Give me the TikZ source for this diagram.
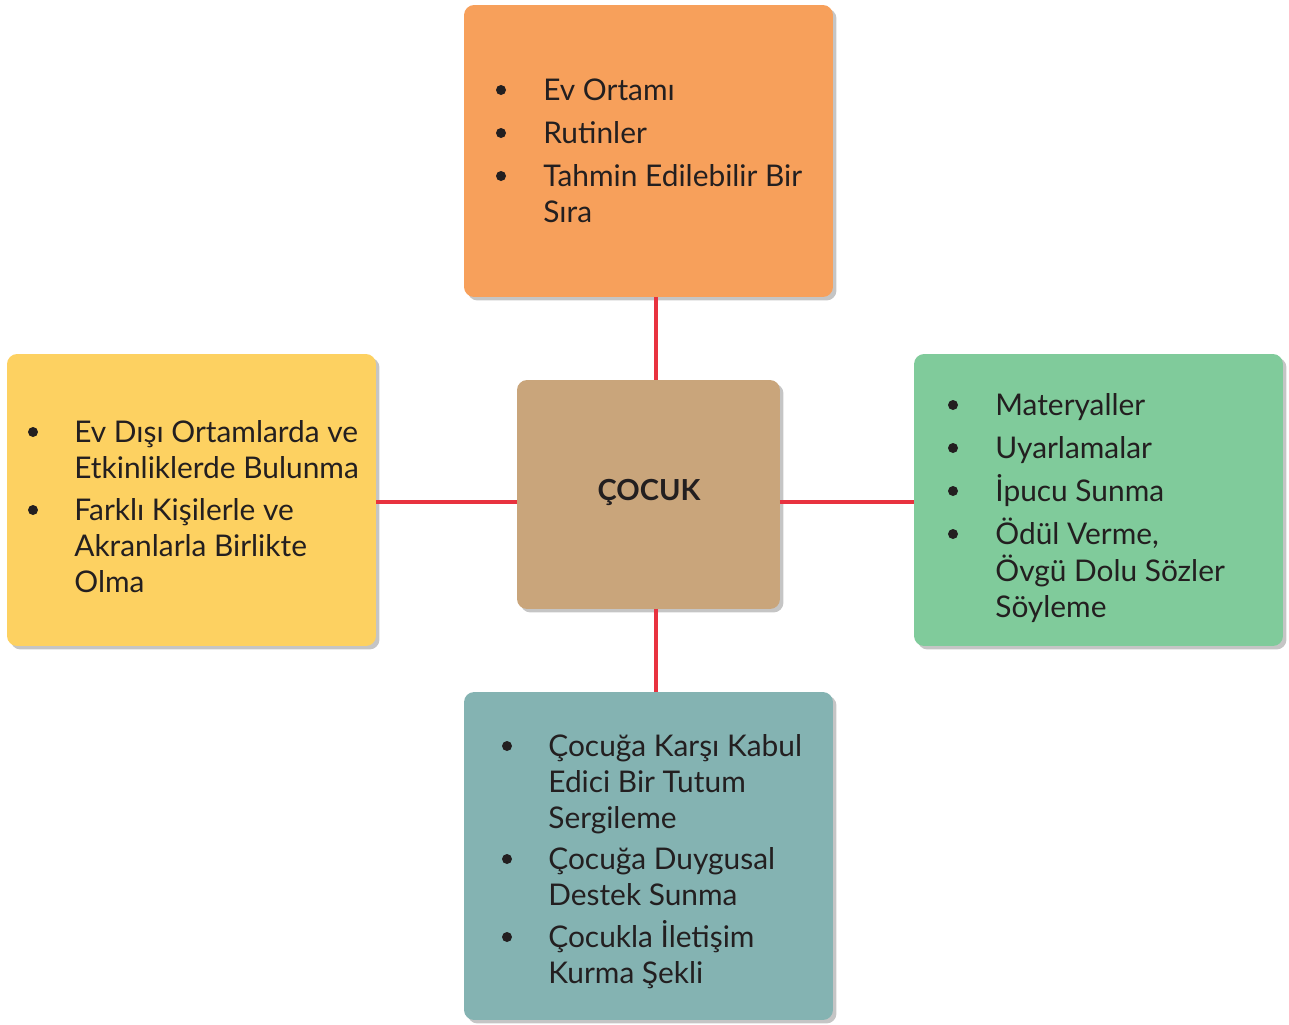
\documentclass[tikz,border=0pt]{standalone}
\usepackage{fontspec}
\setmainfont{Lato}
\usetikzlibrary{shadows}
\definecolor{cOrange}{HTML}{F7A05B}
\definecolor{cYellow}{HTML}{FDD161}
\definecolor{cTan}{HTML}{C9A57B}
\definecolor{cGreen}{HTML}{80CB9B}
\definecolor{cTeal}{HTML}{84B3B2}
\definecolor{cRed}{HTML}{E8323F}
\definecolor{cText}{HTML}{231F20}
\newcommand{\lines}[1]{\begin{tabular}[t]{@{}l@{}}#1\end{tabular}}
\begin{document}
\begin{tikzpicture}[x=0.02cm,y=-0.02cm,
  box/.style={rounded corners=0.2cm, inner sep=0pt, outer sep=0pt,
    drop shadow={shadow xshift=0.07cm, shadow yshift=-0.07cm, fill=black!45, opacity=0.5}},
  sidebox/.style={box, minimum width=7.38cm, minimum height=5.84cm},
  link/.style={draw=cRed, line width=2.3pt},
  item/.style={anchor=base west, inner sep=0pt, text=cText,
    font=\fontsize{17}{20.5}\selectfont},
  dot/.style={fill=cText}
]
\useasboundingbox (0,0) rectangle (1289,1025);
\coordinate (vx) at (656,0);
\coordinate (hy) at (0,502);
% boxes
\node[sidebox, fill=cOrange] (top) at (648.5,151) {};
\node[sidebox, fill=cYellow] (left) at (191.5,500) {};
\node[sidebox, fill=cGreen] (right) at (1098.5,500) {};
\node[box, fill=cTeal, minimum width=7.38cm, minimum height=6.56cm] (bottom) at (648.5,856) {};
\node[box, fill=cTan, minimum width=5.26cm, minimum height=4.58cm] (center) at (648.5,494.5) {};
% connectors
\draw[link] (top.south -| vx) -- (center.north -| vx);
\draw[link] (center.south -| vx) -- (bottom.north -| vx);
\draw[link] (left.east |- hy) -- (center.west |- hy);
\draw[link] (center.east |- hy) -- (right.west |- hy);
% center label
\node[inner sep=0pt, anchor=base, text=cText, font=\fontsize{16.5}{20}\selectfont\bfseries] (lbl) at (649,500) {ÇOCUK};
% top items
\fill[dot] (501,90) circle (0.1cm);
\node[item] (t1) at (543,100) {Ev Ortamı};
\fill[dot] (501,133) circle (0.1cm);
\node[item] (t2) at (543,143) {Rutinler};
\fill[dot] (501,176) circle (0.1cm);
\node[item] (t3) at (543,186) {\lines{Tahmin Edilebilir Bir\\Sıra}};
% left items
\fill[dot] (33,432) circle (0.1cm);
\node[item] (l1) at (74,442) {\lines{Ev Dışı Ortamlarda ve\\Etkinliklerde Bulunma}};
\fill[dot] (33,510) circle (0.1cm);
\node[item] (l2) at (74,520) {\lines{Farklı Kişilerle ve\\Akranlarla Birlikte\\Olma}};
% right items
\fill[dot] (953,405) circle (0.1cm);
\node[item] (r1) at (995,415) {Materyaller};
\fill[dot] (953,448) circle (0.1cm);
\node[item] (r2) at (995,458) {Uyarlamalar};
\fill[dot] (953,491) circle (0.1cm);
\node[item] (r3) at (995,501) {İpucu Sunma};
\fill[dot] (953,534) circle (0.1cm);
\node[item] (r4) at (995,544) {\lines{Ödül Verme,\\Övgü Dolu Sözler\\Söyleme}};
% bottom items
\fill[dot] (507,746) circle (0.1cm);
\node[item] (b1) at (548,756) {\lines{Çocuğa Karşı Kabul\\Edici Bir Tutum\\Sergileme}};
\fill[dot] (507,859) circle (0.1cm);
\node[item] (b2) at (548,869) {\lines{Çocuğa Duygusal\\Destek Sunma}};
\fill[dot] (507,937) circle (0.1cm);
\node[item] (b3) at (548,947) {\lines{Çocukla İletişim\\Kurma Şekli}};
\end{tikzpicture}
\end{document}
